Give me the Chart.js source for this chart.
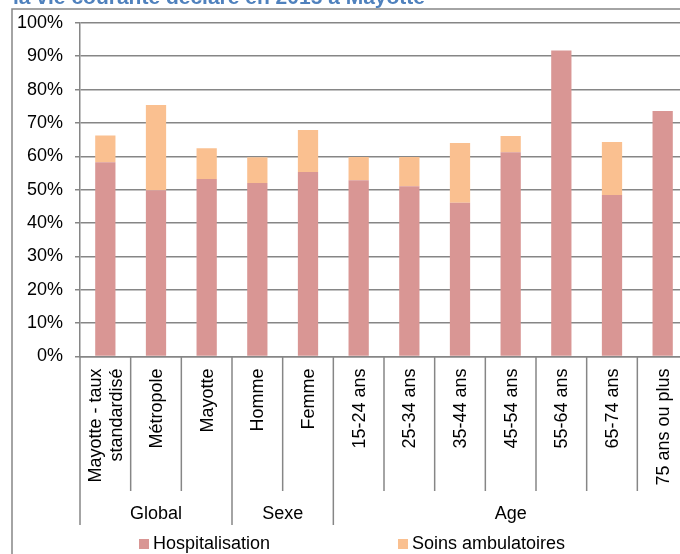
<!DOCTYPE html>
<html lang="fr">
<head>
<meta charset="utf-8">
<title>Recours aux soins à Mayotte</title>
<script src="https://cdn.jsdelivr.net/npm/chart.js@4/dist/chart.umd.min.js"></script>
<style>
  html, body { margin: 0; padding: 0; background: #ffffff; overflow: hidden; }
  #wrap { position: absolute; left: 0; top: 0; width: 700px; height: 554px; }
</style>
</head>
<body>
<div id="wrap"><canvas id="chart" width="700" height="554"></canvas></div>
<script>
// Categories (x axis), with their grouping on the second axis level
const categories = [
  ['Mayotte - taux', 'standardisé'], 'Métropole', 'Mayotte',
  'Homme', 'Femme',
  '15-24 ans', '25-34 ans', '35-44 ans', '45-54 ans', '55-64 ans', '65-74 ans', '75 ans ou plus'
];
const groupLabels = ['Global', 'Sexe', 'Age'];
const groupSizes = [3, 2, 7];

// Series values, in percent
const hospitalisation = [58.2, 49.8, 53.2, 52.0, 55.3, 52.8, 51.0, 46.1, 61.2, 91.7, 48.4, 73.6];
const soinsAmbulatoires = [8.0, 25.6, 9.2, 7.7, 12.6, 7.0, 8.8, 17.9, 4.9, 0, 15.9, 0];

// Value axis ticks
const yTicks = [0, 10, 20, 30, 40, 50, 60, 70, 80, 90, 100];

const titleText = 'la vie courante déclaré en 2015 à Mayotte';

const FONT = '"Liberation Sans", Arial, sans-serif';
const AXIS_GREY = '#868686';

// Frame, title, category labels, group level and legend
const decorations = {
  id: 'decorations',
  beforeDraw(chart) {
    const ctx = chart.ctx;
    ctx.save();
    ctx.fillStyle = '#ffffff';
    ctx.fillRect(0, 0, chart.width, chart.height);
    ctx.strokeStyle = AXIS_GREY;
    ctx.lineWidth = 1.5;
    ctx.strokeRect(12, 9, 900, 900);
    ctx.fillStyle = '#4F81BD';
    ctx.font = 'bold 21px ' + FONT;
    ctx.textAlign = 'left';
    ctx.textBaseline = 'alphabetic';
    ctx.fillText(titleText, 13, 4);
    ctx.restore();
  },
  afterDraw(chart) {
    const ctx = chart.ctx;
    const xs = chart.scales.x;
    const axisY = chart.chartArea.bottom;
    const groupEdges = [0];
    groupSizes.forEach((n, k) => groupEdges.push(groupEdges[k] + n));

    ctx.save();
    // separators between categories, longer ones between groups
    ctx.strokeStyle = AXIS_GREY;
    ctx.lineWidth = 1.5;
    for (let b = 0; b <= categories.length; b++) {
      const x = xs.getPixelForValue(b - 0.5);
      const bottom = groupEdges.includes(b) ? 525 : 491;
      ctx.beginPath();
      ctx.moveTo(x, axisY);
      ctx.lineTo(x, bottom);
      ctx.stroke();
    }

    // rotated category labels
    ctx.fillStyle = '#000000';
    ctx.font = '18px ' + FONT;
    ctx.textAlign = 'right';
    ctx.textBaseline = 'middle';
    const lh = 21.6;
    categories.forEach((lab, i) => {
      const lines = Array.isArray(lab) ? lab : [lab];
      const cx = xs.getPixelForValue(i);
      ctx.save();
      ctx.translate(cx + 1, axisY + 12);
      ctx.rotate(-Math.PI / 2);
      lines.forEach((t, j) => {
        ctx.fillText(t, 0, (j - (lines.length - 1) / 2) * lh);
      });
      ctx.restore();
    });

    // group labels
    ctx.textAlign = 'center';
    groupLabels.forEach((g, k) => {
      const x0 = xs.getPixelForValue(groupEdges[k] - 0.5);
      const x1 = xs.getPixelForValue(groupEdges[k + 1] - 0.5);
      ctx.fillText(g, (x0 + x1) / 2, 514);
    });

    // legend
    const legendX = [139, 398];
    chart.data.datasets.forEach((ds, k) => {
      ctx.fillStyle = ds.backgroundColor;
      ctx.fillRect(legendX[k], 539, 10, 10);
      ctx.fillStyle = '#000000';
      ctx.textAlign = 'left';
      ctx.fillText(ds.label, legendX[k] + 14, 544);
    });
    ctx.restore();
  }
};

new Chart(document.getElementById('chart'), {
  type: 'bar',
  data: {
    labels: categories,
    datasets: [
      { label: 'Hospitalisation', data: hospitalisation, backgroundColor: '#D99694' },
      { label: 'Soins ambulatoires', data: soinsAmbulatoires, backgroundColor: '#FAC090' }
    ]
  },
  options: {
    responsive: false,
    animation: false,
    devicePixelRatio: 1,
    layout: { padding: { top: 20.5, right: 12, left: 0, bottom: 0 } },
    datasets: { bar: { categoryPercentage: 1, barPercentage: 0.4 } },
    plugins: {
      legend: { display: false },
      title: { display: false },
      tooltip: { enabled: false }
    },
    scales: {
      x: {
        stacked: true,
        afterFit(s) { s.height = 554 - 356.5; },
        ticks: { display: false },
        grid: { display: false },
        border: { display: true, color: AXIS_GREY, width: 1.5 }
      },
      y: {
        stacked: true,
        min: 0,
        max: 100,
        afterFit(s) { s.width = 80; },
        afterBuildTicks(s) { s.ticks = yTicks.map(v => ({ value: v })); },
        ticks: {
          callback: v => v + '%',
          color: '#000000',
          font: { family: FONT, size: 18 },
          padding: 12
        },
        grid: { color: AXIS_GREY, lineWidth: 1.5, tickLength: 5 },
        border: { color: AXIS_GREY, width: 1.5 }
      }
    }
  },
  plugins: [decorations]
});
</script>
</body>
</html>
